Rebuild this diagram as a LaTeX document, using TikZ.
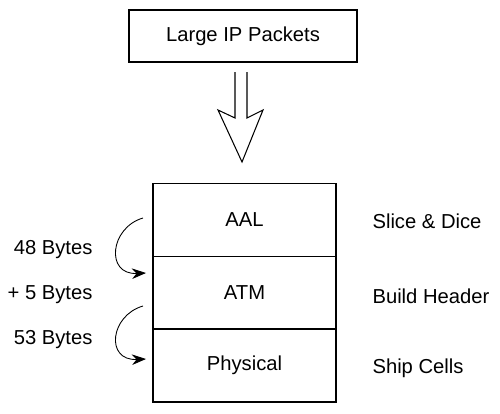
\documentclass[tikz,border=0pt]{standalone}
\usepackage{fontspec}
\setmainfont{Liberation Sans}
\usetikzlibrary{arrows.meta}

\begin{document}
\begin{tikzpicture}[line width=0.6pt,
	capa/.style={draw, minimum width=3.66cm, minimum height=1.46cm, inner sep=0pt},
	etiqueta/.style={font=\fontsize{11.5}{13}\selectfont, inner sep=0pt},
	curva/.style={-{Stealth[length=8pt, width=6pt]}, line width=0.5pt}
	]
	\useasboundingbox (0,0) rectangle (10,-8.26);
	% Caja superior
	\node[draw, minimum width=4.56cm, minimum height=1.04cm, font=\fontsize{11.5}{13}\selectfont] (ip) at (4.86,-0.72) {Large IP Packets};
	
	% Flecha hueca
	\draw (4.70,-1.44) -- (4.70,-2.36) -- (4.36,-2.20) -- (4.84,-3.24) -- (5.26,-2.20) -- (4.94,-2.36) -- (4.94,-1.44);
	
	% Capas
	\node[capa, etiqueta] (aal) at (4.89,-4.40) {AAL};
	\node[capa, etiqueta] (atm) at (4.89,-5.86) {ATM};
	\node[capa, etiqueta] (phy) at (4.89,-7.31) {Physical};
	
	% Funciones a la derecha
	\node[etiqueta, anchor=west] (slice) at (7.44,-4.42) {Slice \& Dice};
	\node[etiqueta, anchor=west] (build) at (7.44,-5.92) {Build Header};
	\node[etiqueta, anchor=west] (ship) at (7.44,-7.36) {Ship Cells};
	
	% Tamaños a la izquierda
	\node[etiqueta, anchor=east] (b48) at (1.86,-5.00) {48 Bytes};
	\node[etiqueta, anchor=east] (b5) at (1.86,-5.90) {+ 5 Bytes};
	\node[etiqueta, anchor=east] (b53) at (1.86,-6.80) {53 Bytes};
	
	% Flechas curvas
	\coordinate (s1) at (2.86,-4.36);
	\coordinate (e1) at (2.92,-5.46);
	\coordinate (s2) at (2.86,-6.12);
	\coordinate (e2) at (2.92,-7.18);
	\draw[curva] (s1) .. controls (2.2,-4.55) and (2.1,-5.5) .. (e1);
	\draw[curva] (s2) .. controls (2.2,-6.31) and (2.1,-7.22) .. (e2);
\end{tikzpicture}
\end{document}
